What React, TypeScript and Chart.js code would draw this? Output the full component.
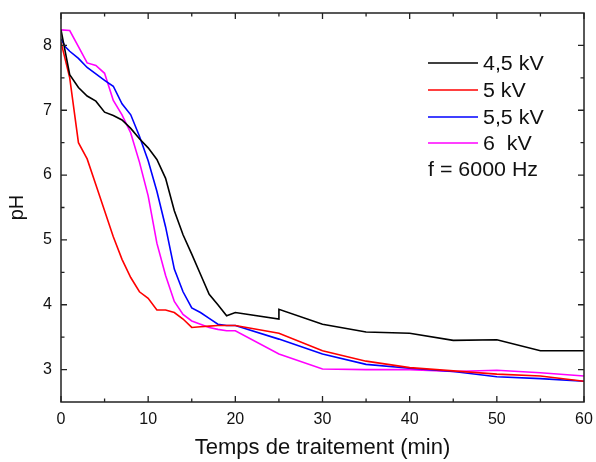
import React, { useEffect, useRef } from "react";
import { Chart, registerables } from "chart.js";

Chart.register(...registerables);

const FONT = "'Liberation Sans', Arial, sans-serif";

const seriesLabels = ["4,5 kV", "5 kV", "5,5 kV", "6  kV"];
const seriesColors = ["#000000", "#ff0000", "#0000ff", "#ff00ff"];
const frequencyNote = "f = 6000 Hz";

const timeBlack = [0, 1, 2, 3, 4, 5, 6, 7, 8, 9, 10, 11, 12, 13, 14, 15, 16, 17, 18, 19, 20, 25, 25, 30, 35, 40, 45, 50, 55, 60];
const phBlack = [8.24, 7.55, 7.35, 7.22, 7.14, 6.97, 6.92, 6.85, 6.72, 6.56, 6.42, 6.24, 5.95, 5.45, 5.08, 4.78, 4.47, 4.16, 4.0, 3.83, 3.88, 3.78, 3.93, 3.7, 3.58, 3.56, 3.45, 3.46, 3.29, 3.29];

const timeRed = [0, 1, 2, 3, 4, 5, 6, 7, 8, 9, 10, 11, 12, 13, 14, 15, 16, 17, 18, 19, 20, 25, 30, 35, 40, 45, 50, 55, 60];
const phRed = [8.05, 7.5, 6.5, 6.25, 5.85, 5.45, 5.05, 4.7, 4.42, 4.2, 4.1, 3.92, 3.92, 3.88, 3.78, 3.65, 3.66, 3.67, 3.68, 3.68, 3.68, 3.56, 3.29, 3.13, 3.03, 2.98, 2.93, 2.9, 2.82];

const timeBlue = [0, 0.5, 1, 2, 3, 4, 5, 6, 7, 8, 9, 10, 11, 12, 13, 14, 15, 16, 17, 18, 19, 20, 25, 30, 35, 40, 45, 50, 55, 60];
const phBlue = [8.1, 7.98, 7.91, 7.8, 7.66, 7.56, 7.46, 7.37, 7.1, 6.93, 6.6, 6.22, 5.75, 5.2, 4.55, 4.2, 3.95, 3.88, 3.79, 3.7, 3.68, 3.68, 3.47, 3.24, 3.08, 3.02, 2.97, 2.89, 2.86, 2.82];

const timeMagenta = [0, 1, 2, 3, 4, 5, 6, 7, 8, 9, 10, 11, 12, 13, 14, 15, 16, 17, 18, 19, 20, 25, 30, 35, 40, 45, 50, 55, 60];
const phMagenta = [8.24, 8.23, 7.98, 7.73, 7.69, 7.57, 7.15, 6.93, 6.65, 6.2, 5.68, 4.95, 4.45, 4.05, 3.85, 3.75, 3.7, 3.65, 3.62, 3.6, 3.6, 3.24, 3.01, 3.0, 3.0, 2.97, 2.99, 2.95, 2.9];

const xTitle = "Temps de traitement (min)";
const yTitle = "pH";

const toPoints = (xs: number[], ys: number[]) => xs.map((x, i) => ({ x, y: ys[i] }));

const drawStretched = (ctx: CanvasRenderingContext2D, text: string, x: number, y: number) => {
  ctx.save();
  ctx.translate(x, y);
  ctx.scale(1.07, 1);
  ctx.fillText(text, 0, 0);
  ctx.restore();
};

const frameAndLegend = {
  id: "frameAndLegend",
  afterDraw(chart: any) {
    const { ctx, chartArea } = chart;
    const { left, right, top, bottom } = chartArea;
    const xs = chart.scales.x;
    const ys = chart.scales.y;
    ctx.save();
    ctx.strokeStyle = "#222";
    ctx.lineWidth = 1.5;
    ctx.strokeRect(left, top, right - left, bottom - top);
    ctx.lineWidth = 1.3;
    ctx.beginPath();
    for (let v = 0; v <= 60; v += 5) {
      const px = xs.getPixelForValue(v);
      const len = v % 10 === 0 ? 6 : 3.5;
      ctx.moveTo(px, bottom);
      ctx.lineTo(px, bottom - len);
      ctx.moveTo(px, top);
      ctx.lineTo(px, top + len);
    }
    for (let v = 3; v <= 8.0001; v += 0.5) {
      const py = ys.getPixelForValue(v);
      const len = Math.abs(v - Math.round(v)) < 1e-6 ? 6 : 3.5;
      ctx.moveTo(left, py);
      ctx.lineTo(left + len, py);
      ctx.moveTo(right, py);
      ctx.lineTo(right - len, py);
    }
    ctx.stroke();

    // legend
    const lx0 = 428;
    const lx1 = 478;
    const rowY = [63, 90, 117, 143];
    ctx.font = `20px ${FONT}`;
    ctx.textBaseline = "middle";
    ctx.textAlign = "left";
    chart.data.datasets.forEach((ds: any, i: number) => {
      const y = rowY[i];
      ctx.strokeStyle = ds.borderColor;
      ctx.lineWidth = 1.5;
      ctx.beginPath();
      ctx.moveTo(lx0, y);
      ctx.lineTo(lx1, y);
      ctx.stroke();
      ctx.fillStyle = "#111";
      drawStretched(ctx, ds.label, 483, y + 1.5);
    });
    drawStretched(ctx, frequencyNote, 428, 170);
    ctx.restore();
  },
};

export default function App() {
  const canvasRef = useRef<HTMLCanvasElement | null>(null);

  useEffect(() => {
    document.body.style.margin = "0";
    const canvas = canvasRef.current;
    if (!canvas) return;
    const xsList = [timeBlack, timeRed, timeBlue, timeMagenta];
    const ysList = [phBlack, phRed, phBlue, phMagenta];
    const chart = new Chart(canvas, {
      type: "line",
      data: {
        datasets: seriesLabels.map((label, i) => ({
          label,
          data: toPoints(xsList[i], ysList[i]),
          borderColor: seriesColors[i],
          backgroundColor: seriesColors[i],
          borderWidth: 1.6,
          pointRadius: 0,
          tension: 0,
          fill: false,
        })),
      },
      options: {
        animation: false,
        responsive: false,
        maintainAspectRatio: false,
        layout: { padding: { top: 13, right: 12, left: 0, bottom: 0 } },
        plugins: {
          legend: { display: false },
          tooltip: { enabled: false },
        },
        scales: {
          x: {
            type: "linear",
            min: 0,
            max: 60,
            grid: { display: false, drawTicks: false },
            border: { display: false },
            ticks: {
              stepSize: 10,
              padding: 8,
              color: "#111",
              font: { family: FONT, size: 16 },
              maxRotation: 0,
            },
            title: {
              display: true,
              text: xTitle,
              color: "#111",
              font: { family: FONT, size: 22 },
              padding: { top: 0, bottom: 1 },
            },
            afterFit: (scale: any) => {
              scale.height = 60;
              scale.paddingLeft = 0;
              scale.paddingRight = 0;
            },
          },
          y: {
            type: "linear",
            min: 2.5,
            max: 8.5,
            grid: { display: false, drawTicks: false },
            border: { display: false },
            ticks: {
              stepSize: 0.5,
              padding: 9,
              color: "#111",
              font: { family: FONT, size: 16 },
              callback: (v: any) => (Number.isInteger(v) ? String(v) : ""),
            },
            title: {
              display: true,
              text: yTitle,
              color: "#111",
              font: { family: FONT, size: 20 },
              padding: { top: 5, bottom: 0 },
            },
            afterFit: (scale: any) => {
              scale.width = 61;
              scale.paddingTop = 0;
              scale.paddingBottom = 0;
            },
          },
        },
      },
      plugins: [frameAndLegend],
    });
    return () => chart.destroy();
  }, []);

  return (
    <div style={{ width: 596, height: 462 }}>
      <canvas ref={canvasRef} width={596} height={462} style={{ display: "block" }} />
    </div>
  );
}
